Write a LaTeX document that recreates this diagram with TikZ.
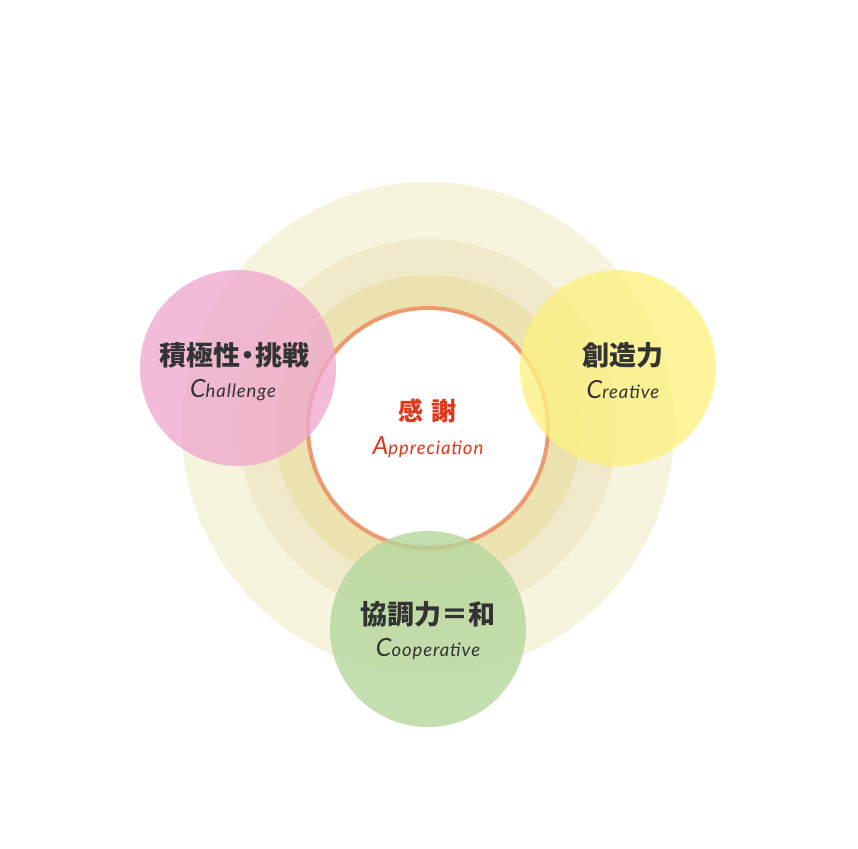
\documentclass[tikz,border=0pt]{standalone}
\usepackage{fontspec}
\newfontfamily\jpfont{Noto Sans CJK JP}
\newfontfamily\enfont[LetterSpace=5]{Lato}
\definecolor{ringA}{HTML}{F6F4DD}
\definecolor{ringB}{HTML}{F0EACB}
\definecolor{ringC}{HTML}{ECE2B0}
\definecolor{ringO}{HTML}{EE9A6E}
\definecolor{pinkC}{HTML}{EFAACD}
\definecolor{yellowC}{HTML}{FCF182}
\definecolor{greenC}{HTML}{B4D79C}
\definecolor{darktext}{HTML}{333333}
\definecolor{redtext}{HTML}{E0391A}
\tikzset{
  disc/.style={circle, inner sep=0pt, draw=none},
  topic/.style={disc, minimum size=196pt, fill opacity=0.8, text opacity=1},
  jp/.style={font=\jpfont\bfseries\fontsize{27}{30}\selectfont, text=darktext, inner sep=0pt},
  en/.style={font=\enfont\itshape\fontsize{18.5}{20}\selectfont, text=darktext, inner sep=0pt},
}
\newcommand{\bigC}[1]{{\fontsize{25}{26}\selectfont #1}}
\begin{document}
\begin{tikzpicture}[x=1pt,y=-1pt]
\useasboundingbox (0,0) rectangle (858,848);
\node[disc, fill=ringA, minimum size=492pt] (outer) at (428,428) {};
\node[disc, fill=ringB, minimum size=378pt] (middle) at (428,428) {};
\node[disc, fill=ringC, minimum size=306pt] (inner) at (428,428) {};
\node[disc, fill=white, draw=ringO, line width=4pt, minimum size=240pt] (core) at (428,428) {};
\node[topic, fill=pinkC] (pink) at (238,368) {};
\node[topic, fill=yellowC] (yellow) at (618,368) {};
\node[topic, fill=greenC] (green) at (428,629) {};
\node[jp] (chJ) at (234,355) {積極性\kern-6pt・\kern-6pt挑戦};
\node[en] (chE) at (233,390) {\bigC{C}hallenge};
\node[jp] (crJ) at (623,355) {創造力};
\node[en] (crE) at (623,390) {\bigC{C}reative};
\node[jp, text=redtext, font=\jpfont\bfseries\fontsize{25}{28}\selectfont] (apJ) at (427,411) {感\hspace{8pt}謝};
\node[en, text=redtext] (apE) at (428,447) {\bigC{A}ppreciation};
\node[jp] (coJ) at (428,614) {協調力＝和};
\node[en] (coE) at (428,649) {\bigC{C}ooperative};
\end{tikzpicture}
\end{document}
